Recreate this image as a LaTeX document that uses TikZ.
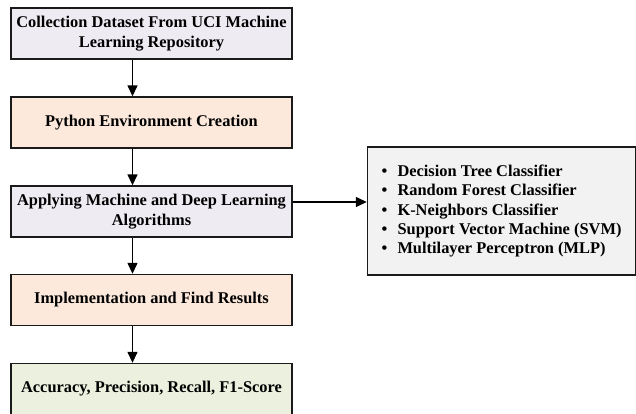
\documentclass[tikz,border=0pt]{standalone}
\usepackage{fontspec}
\setmainfont{Liberation Serif}
\usetikzlibrary{arrows.meta}
\definecolor{lav}{HTML}{EEEBF3}
\definecolor{peach}{HTML}{FCE9DC}
\definecolor{mint}{HTML}{EBF1DE}
\definecolor{greybox}{HTML}{F2F2F2}
\definecolor{edge}{HTML}{1A1A1A}
\tikzset{
  flowbox/.style={draw=edge, line width=1.4pt, minimum width=281pt, minimum height=51pt,
    inner sep=2pt, align=center, font=\fontsize{16.4}{19.8}\selectfont\bfseries},
  flowarrow/.style={draw=black, line width=1.4pt, -{Triangle[length=11pt,width=10pt]}},
}
\newcommand{\bitem}[1]{\makebox[16pt][l]{\textbullet}#1}
\begin{document}
\begin{tikzpicture}[x=1pt,y=-1pt]
\useasboundingbox[fill=white] (0,0) rectangle (636,413);
\begin{scope}
\clip (0,0) rectangle (636,413);
\node[flowbox, fill=lav]   (b1) at (151.5,33.5) {Collection Dataset From UCI Machine\\Learning Repository};
\node[flowbox, fill=peach] (b2) at (151.5,122.5) {Python Environment Creation};
\node[flowbox, fill=lav]   (b3) at (151.5,211.5) {Applying Machine and Deep Learning\\Algorithms};
\node[flowbox, fill=peach] (b4) at (151.5,300) {Implementation and Find Results};
\node[flowbox, fill=mint]  (b5) at (151.5,389) {Accuracy, Precision, Recall, F1-Score};
\node[draw=edge, line width=1.4pt, fill=greybox, minimum width=268pt, minimum height=128pt,
  align=left, inner sep=2pt, font=\fontsize{16.4}{19.3}\selectfont\bfseries] (alg) at (501.5,211)
  {\bitem{Decision Tree Classifier}\\\bitem{Random Forest Classifier}\\\bitem{K-Neighbors Classifier}\\\bitem{Support Vector Machine (SVM)}\\\bitem{Multilayer Perceptron (MLP)}};
\coordinate (ax) at (132.5,0);
\coordinate (hy) at (0,202);
\draw[flowarrow] (b1.south -| ax) -- (b2.north -| ax);
\draw[flowarrow] (b2.south -| ax) -- (b3.north -| ax);
\draw[flowarrow] (b3.south -| ax) -- (b4.north -| ax);
\draw[flowarrow] (b4.south -| ax) -- (b5.north -| ax);
\draw[flowarrow] (b3.east |- hy) -- (alg.west |- hy);
\end{scope}
\end{tikzpicture}
\end{document}
